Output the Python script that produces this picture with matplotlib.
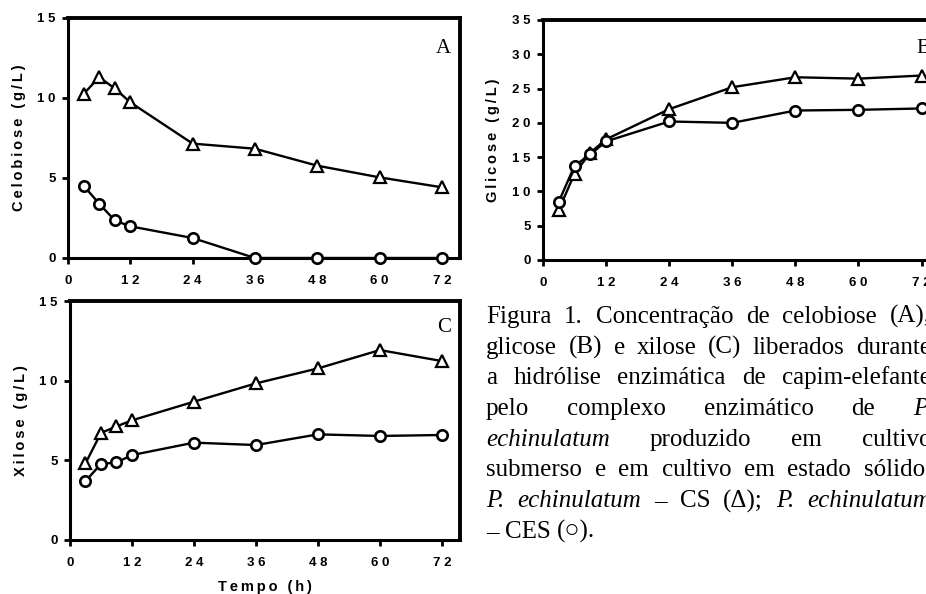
"""
Hidrólise enzimática de capim-elefante: celobiose, glicose e xilose.
Três painéis (A, B, C) no estilo GraphPad e a legenda da figura ao lado.
"""

import matplotlib
matplotlib.use("Agg")
import matplotlib.pyplot as plt

# dados (g/L)
tempo = [3, 6, 9, 12, 24, 36, 48, 60, 72]

celobiose_cs = [10.25, 11.3, 10.6, 9.73, 7.15, 6.83, 5.77, 5.04, 4.42]
celobiose_ces = [4.52, 3.4, 2.35, 1.98, 1.25, 0, 0, 0, 0]

glicose_cs = [7.3, 12.6, 15.65, 17.6, 22.0, 25.2, 26.65, 26.45, 26.9]
glicose_ces = [8.5, 13.75, 15.4, 17.3, 20.2, 20.0, 21.8, 21.9, 22.1]

xilose_cs = [4.81, 6.72, 7.13, 7.51, 8.68, 9.83, 10.77, 11.92, 11.23]
xilose_ces = [3.70, 4.77, 4.87, 5.33, 6.11, 5.96, 6.63, 6.53, 6.59]

x_ticks = [0, 12, 24, 36, 48, 60, 72]
y_ticks_ac = [0, 5, 10, 15]
y_ticks_b = [0, 5, 10, 15, 20, 25, 30, 35]

# legenda: (palavras, justificada); palavra = (texto, itálico)
caption_lines = [
    ([("Figura", 0), ("1.", 0), ("Concentração", 0), ("de", 0),
      ("celobiose", 0), ("(A),", 0)], True),
    ([("glicose", 0), ("(B)", 0), ("e", 0), ("xilose", 0), ("(C)", 0),
      ("liberados", 0), ("durante", 0)], True),
    ([("a", 0), ("hidrólise", 0), ("enzimática", 0), ("de", 0),
      ("capim-elefante", 0)], True),
    ([("pelo", 0), ("complexo", 0), ("enzimático", 0), ("de", 0),
      ("P.", 1)], True),
    ([("echinulatum", 1), ("produzido", 0), ("em", 0), ("cultivo", 0)], True),
    ([("submerso", 0), ("e", 0), ("em", 0), ("cultivo", 0), ("em", 0),
      ("estado", 0), ("sólido.", 0)], True),
    ([("P.", 1), ("echinulatum", 1), ("–", 0), ("CS", 0), ("(Δ);", 0),
      ("P.", 1), ("echinulatum", 1)], True),
    ([("–", 0), ("CES", 0), ("(○).", 0)], False),
]

W, H = 926, 594
SANS = ["Liberation Sans", "DejaVu Sans"]
SERIF = ["Liberation Serif", "DejaVu Sans"]


def spaced(s, gap="\u2009"):
    return gap.join(s)


def style_axes(ax, yticks, ymax, ylabel, letter, letter_y, show_xlabel=False):
    ax.set_xlim(0, 75.5)
    ax.set_ylim(0, ymax)
    for side in ["left", "bottom"]:
        ax.spines[side].set_linewidth(2.2)
    for side in ["top", "right"]:
        ax.spines[side].set_linewidth(2.8)
    ax.set_xticks(x_ticks)
    ax.set_xticklabels([" ".join(str(v)) for v in x_ticks])
    ax.set_yticks(yticks)
    ax.set_yticklabels([" ".join(str(v)) for v in yticks])
    ax.tick_params(direction="out", length=4, width=2, labelsize=9.5)
    ax.tick_params(axis="x", pad=8)
    ax.tick_params(axis="y", pad=5)
    for lab in ax.get_xticklabels() + ax.get_yticklabels():
        lab.set_fontweight("bold")
        lab.set_family(SANS)
    ax.set_ylabel(spaced(ylabel), fontsize=10.5, fontweight="bold",
                  family=SANS, va="center")
    ax.yaxis.set_label_coords(-0.125, 0.5)
    if show_xlabel:
        ax.set_xlabel(spaced("Tempo (h)"), fontsize=10.5, fontweight="bold",
                      family=SANS, va="center")
        ax.xaxis.set_label_coords(0.5, -0.197)
    ax.text(73.7, letter_y, letter, ha="right", va="baseline",
            fontsize=15, family=SERIF)


def plot_series(ax, cs, ces):
    ax.plot(tempo, cs, color="black", lw=1.7, marker="^", ms=9,
            mfc="white", mec="black", mew=1.6, clip_on=False, zorder=3)
    ax.plot(tempo, ces, color="black", lw=1.7, marker="o", ms=7.5,
            mfc="white", mec="black", mew=1.9, clip_on=False, zorder=4)


def draw_caption(fig):
    renderer = fig.canvas.get_renderer()
    x0, right = 486, 931
    base, step = 323, 30.7
    for i, (words, justify) in enumerate(caption_lines):
        y = base + i * step
        texts = []
        for word, italic in words:
            t = fig.text(0, 0, word, fontsize=18, family=SERIF,
                         style="italic" if italic else "normal",
                         va="baseline", ha="left")
            texts.append(t)
        widths = [t.get_window_extent(renderer).width for t in texts]
        if justify and len(texts) > 1:
            gap = (right - x0 - sum(widths)) / (len(texts) - 1)
        else:
            gap = 6.25
        x = x0
        for t, w in zip(texts, widths):
            t.set_position((x / W, 1 - y / H))
            x += w + gap


def main():
    fig = plt.figure(figsize=(W / 100, H / 100), dpi=100)

    ax_a = fig.add_axes([68 / W, 1 - 258 / H, 392 / W, 240 / H])
    ax_b = fig.add_axes([543 / W, 1 - 260 / H, 397 / W, 240 / H])
    ax_c = fig.add_axes([70 / W, 1 - 540 / H, 390 / W, 239 / H])

    plot_series(ax_a, celobiose_cs, celobiose_ces)
    plot_series(ax_b, glicose_cs, glicose_ces)
    plot_series(ax_c, xilose_cs, xilose_ces)

    style_axes(ax_a, y_ticks_ac, 15, "Celobiose (g/L)", "A", 12.8)
    style_axes(ax_b, y_ticks_b, 35, "Glicose (g/L)", "B", 30.2)
    style_axes(ax_c, y_ticks_ac, 15, "Xilose (g/L)", "C", 13.05,
               show_xlabel=True)

    draw_caption(fig)
    fig.savefig("out.png", dpi=100)


if __name__ == "__main__":
    main()
